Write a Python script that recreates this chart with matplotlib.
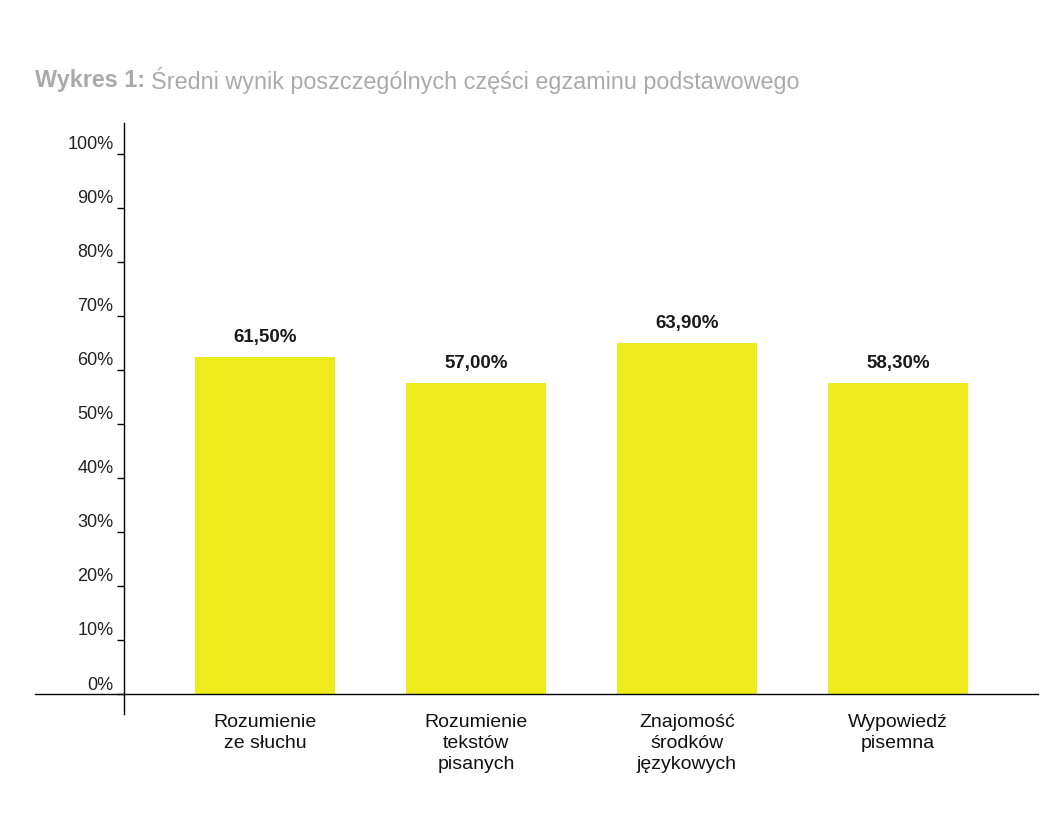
import matplotlib
matplotlib.use('Agg')
import matplotlib.pyplot as plt
import matplotlib.transforms as mtransforms

plt.rcParams['font.family'] = ['Liberation Sans', 'DejaVu Sans']

categories = ['Rozumienie\nze słuchu', 'Rozumienie\ntekstów\npisanych',
              'Znajomość\nśrodków\njęzykowych', 'Wypowiedź\npisemna']
# bar heights as drawn in the picture (they differ a bit from the printed labels)
heights = [62.4, 57.5, 64.9, 57.5]
value_labels = ['61,50%', '57,00%', '63,90%', '58,30%']
yticks = [0, 10, 20, 30, 40, 50, 60, 70, 80, 90, 100]
ytick_labels = ['%d%%' % v for v in yticks]

W, H = 1063, 827
fig = plt.figure(figsize=(W / 100, H / 100), dpi=100)
ax = fig.add_axes([35 / W, (H - 714) / H, (1038 - 35) / W, (714 - 123) / H])

x = list(range(len(categories)))
ax.bar(x, heights, width=0.663, color='#efec1e', zorder=2)
ax.set_xlim(-1.09, 3.664)
ax.set_ylim(-3.7, 105.7)

for s in ['top', 'right']:
    ax.spines[s].set_visible(False)
ax.spines['left'].set_position(('data', -0.668))
ax.spines['bottom'].set_position(('data', 0))
for s in ['left', 'bottom']:
    ax.spines[s].set_linewidth(1.0)
    ax.spines[s].set_zorder(3)

ax.set_xticks([])
ax.set_yticks(yticks)
ax.set_yticklabels(ytick_labels)
ax.tick_params(axis='y', length=5, width=1.0, pad=2.5, labelsize=13, colors='black')
for lab in ax.get_yticklabels():
    lab.set_color('#222222')
    lab.set_transform(lab.get_transform() +
                      mtransforms.ScaledTranslation(0, 11 / 100, fig.dpi_scale_trans))

for xi, h, t in zip(x, heights, value_labels):
    ax.annotate(t, (xi, h), xytext=(0, 14), textcoords='offset points',
                ha='center', va='center', fontsize=13.5, fontweight='bold',
                color='#1a1a1a')

for xi, c in zip(x, categories):
    ax.annotate(c, (xi, 0), xytext=(0, -14.5), textcoords='offset points',
                ha='center', va='top', fontsize=14, color='#111111',
                linespacing=1.3, annotation_clip=False)

t1 = fig.text(35 / W, 1 - 80 / H, 'Wykres 1:', fontsize=16.8, fontweight='bold',
              color='#aaaaaa', va='center', ha='left')
fig.canvas.draw()
bb = t1.get_window_extent()
fig.text((bb.x1 + 6) / W, 1 - 80 / H, 'Średni wynik poszczególnych części egzaminu podstawowego',
         fontsize=16.8, color='#aaaaaa', va='center', ha='left')

fig.savefig('out.png', dpi=100)
